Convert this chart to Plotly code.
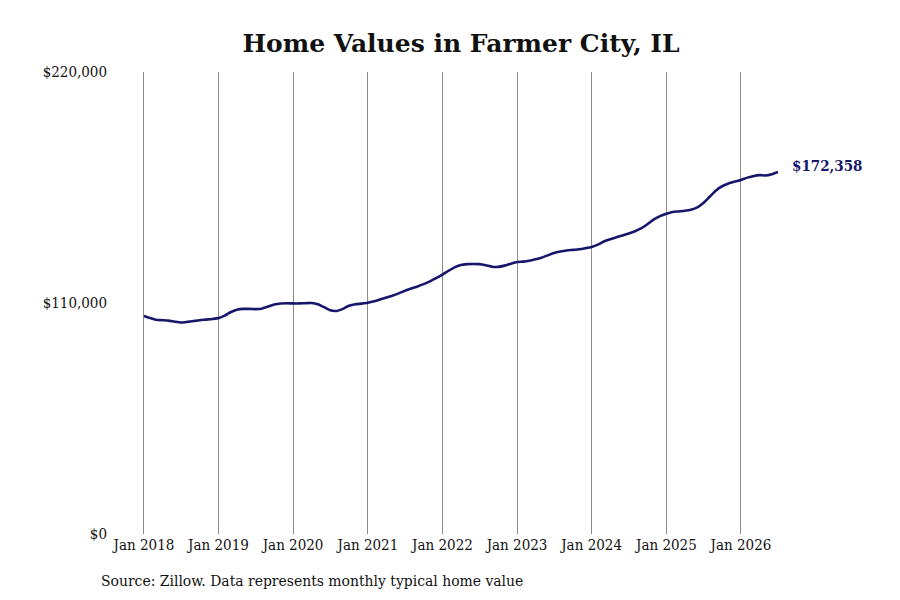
import plotly.graph_objects as go
import pandas as pd

dates = pd.date_range("2018-01-01", "2026-07-01", freq="MS")

values = [
    # 2018
    103800, 102800, 102000, 101800, 101600, 101100, 100700, 101000, 101400, 101800, 102100, 102400,
    # 2019
    102800, 104000, 105600, 106800, 107200, 107200, 107100, 107300, 108300, 109300, 109800, 109900,
    # 2020
    109800, 109800, 109900, 110000, 109400, 108000, 106500, 106200, 107200, 108700, 109400, 109700,
    # 2021
    110100, 110800, 111700, 112600, 113500, 114600, 115800, 116900, 117900, 119000, 120300, 121800,
    # 2022
    123500, 125400, 127000, 128100, 128500, 128600, 128500, 128000, 127300, 127200, 127800, 128700,
    # 2023
    129500, 129700, 130100, 130800, 131600, 132700, 133800, 134500, 135000, 135300, 135600, 136100,
    # 2024
    136700, 137800, 139300, 140400, 141300, 142200, 143100, 144200, 145600, 147600, 149800, 151400,
    # 2025
    152500, 153300, 153600, 153900, 154400, 155500, 157600, 160600, 163600, 165600, 166900, 167800,
    # 2026
    168600, 169700, 170400, 170900, 170700, 171300, 172358,
]

y_ticks = [0, 110000, 220000]
y_tick_labels = ["$0", "$110,000", "$220,000"]
x_ticks = [f"{y}-01-01" for y in range(2018, 2027)]
x_tick_labels = [f"Jan {y}" for y in range(2018, 2027)]

title_text = "Home Values in Farmer City, IL"
source_text = "Source: Zillow. Data represents monthly typical home value"
last_label = "$172,358"

line_color = "#16166b"
serif = "DejaVu Serif Condensed, DejaVu Serif, serif"
title_font = "DejaVu Serif, serif"

# page is shown with an 8px body offset; compensate in figure coordinates
OFF = 8
plot_l, plot_r, plot_t, plot_b = 120 - OFF, 800 - OFF, 72 - OFF, 534 - OFF
plot_w = plot_r - plot_l
plot_h = plot_b - plot_t

fig = go.Figure()
fig.add_trace(go.Scatter(
    x=dates, y=values, mode="lines",
    line=dict(color=line_color, width=2.6, shape="spline", smoothing=0.6),
    hoverinfo="skip", showlegend=False,
))

fig.add_annotation(
    x=dates[-1], y=values[-1], text=f"<b>{last_label}</b>",
    xref="x", yref="y", xanchor="left", yanchor="middle",
    xshift=12, yshift=6, showarrow=False,
    font=dict(family=serif, size=15, color=line_color),
)

fig.add_annotation(
    x=(99 - OFF - plot_l) / plot_w, y=(plot_b - (581 - OFF)) / plot_h,
    xref="paper", yref="paper", text=source_text,
    xanchor="left", yanchor="middle",
    showarrow=False, font=dict(family=serif, size=15.5, color="#111111"),
)

fig.update_layout(
    width=900, height=600,
    paper_bgcolor="white", plot_bgcolor="white",
    margin=dict(l=plot_l, r=900 - plot_r, t=plot_t, b=600 - plot_b),
    title=dict(text=f"<b>{title_text}</b>", x=(461 - OFF) / 900, xanchor="center",
               y=1 - (43 - OFF) / 600, yanchor="middle",
               font=dict(family=title_font, size=25, color="#111111")),
    font=dict(family=serif, size=15, color="#111111"),
)

fig.update_xaxes(
    range=["2017-09-06", "2026-10-17"],
    tickvals=x_ticks, ticktext=x_tick_labels,
    showgrid=True, gridcolor="#8c8c8c", gridwidth=1,
    zeroline=False, showline=False, ticks="",
    tickfont=dict(family=serif, size=15, color="#111111"),
)
fig.update_yaxes(
    range=[0, 220000],
    tickvals=y_ticks, ticktext=y_tick_labels,
    showgrid=False, zeroline=False, showline=False, ticks="",
    ticklabelstandoff=12,
    tickfont=dict(family=serif, size=15, color="#111111"),
)

fig.write_html("out.html")
